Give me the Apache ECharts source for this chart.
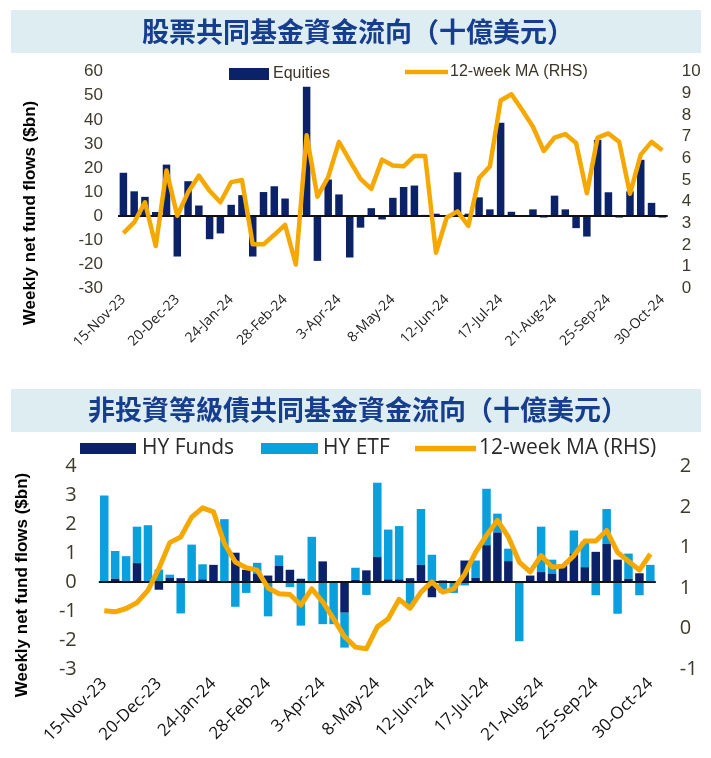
<!DOCTYPE html>
<html><head><meta charset="utf-8">
<script src="https://cdn.jsdelivr.net/npm/echarts@6/dist/echarts.min.js"></script>
<style>html,body{margin:0;padding:0;background:#fff}#c{width:711px;height:758px}</style>
</head><body><div id="c"></div>
<script>
const categories = ['15-Nov-23','22-Nov-23','29-Nov-23','6-Dec-23','13-Dec-23','20-Dec-23','27-Dec-23','3-Jan-24','10-Jan-24','17-Jan-24','24-Jan-24','31-Jan-24','7-Feb-24','14-Feb-24','21-Feb-24','28-Feb-24','6-Mar-24','13-Mar-24','20-Mar-24','27-Mar-24','3-Apr-24','10-Apr-24','17-Apr-24','24-Apr-24','1-May-24','8-May-24','15-May-24','22-May-24','29-May-24','5-Jun-24','12-Jun-24','19-Jun-24','26-Jun-24','3-Jul-24','10-Jul-24','17-Jul-24','24-Jul-24','31-Jul-24','7-Aug-24','14-Aug-24','21-Aug-24','28-Aug-24','4-Sep-24','11-Sep-24','18-Sep-24','25-Sep-24','2-Oct-24','9-Oct-24','16-Oct-24','23-Oct-24','30-Oct-24'];
const equities = [18,10.3,8,1.7,21.4,-16.8,14.5,4.4,-9.6,-7.2,4.7,8.7,-16.8,10,12.4,7.3,0.3,53.7,-18.6,15.2,9,-17.2,-4.8,3.3,-1.4,7.6,12.1,12.7,0.5,1,0.2,18.2,1,7.8,2.8,38.8,1.8,0.2,2.8,-0.6,8.5,2.8,-5,-8.5,31.7,9.9,-0.6,10.3,23.4,5.5,-0.6];
const equitiesMA = [2.55,3.04,3.97,1.95,5.44,3.35,4.43,5.2,4.5,3.97,4.9,5.0,2.03,2.03,2.47,2.93,1.1,7.07,4.23,5.13,6.76,5.9,5.05,4.59,5.94,5.67,5.63,6.11,6.11,1.64,3.27,3.55,2.88,5.09,5.63,8.67,8.96,8.23,7.46,6.34,6.96,7.12,6.71,4.39,6.96,7.15,6.76,4.36,6.17,6.76,6.37];
const hyFunds = [0.02,0.12,0.02,0.66,0.02,-0.26,0.15,0.14,0.02,0.1,0.6,0.03,1.02,0.43,0.29,0.23,0.56,0.43,0.12,-0.03,0.72,0,-1.05,0.08,0.41,0.87,0.1,0.1,0.14,0.6,-0.52,0.06,0,0.75,0.15,1.28,1.72,0.73,0,0.23,0.35,0.3,0.57,0.99,0.52,1.05,1.32,0.78,0.12,0.31,0];
const hyETF = [2.98,0.96,0.88,1.26,1.95,0.44,0.11,-1.08,1.28,0.52,0,2.15,-0.85,-0.37,0.38,-1.18,0.37,-0.17,-1.5,1.57,-1.45,-1.45,-1.21,0.42,-0.44,2.57,1.72,1.84,-0.85,1.93,0.95,-0.36,-0.37,-0.11,0.6,1.95,0.65,0.43,-2.04,0,1.57,0.48,0,0.8,0.88,-0.45,1.21,-1.09,0.87,-0.45,0.6];
const hyMA = [0.218,0.206,0.247,0.32,0.47,0.74,1.06,1.13,1.375,1.49,1.44,1.05,0.82,0.75,0.72,0.5,0.43,0.42,0.29,0.49,0.33,0.12,-0.1,-0.23,-0.25,0.02,0.12,0.36,0.25,0.45,0.575,0.45,0.49,0.67,0.94,1.15,1.335,1.13,0.82,0.7,0.9,0.76,0.77,0.9,1.08,1.08,1.21,0.94,0.83,0.72,0.92];
const title1 = '股票共同基金資金流向（十億美元）';
const title2 = '非投資等級債共同基金資金流向（十億美元）';
const yTitle = 'Weekly net fund flows ($bn)';

const NAVY = '#0c2268', LIGHT = '#0aa0de', ORANGE = '#f5a800', TICK = '#3d3a2c';
const F1 = "'Liberation Sans', Arial, sans-serif";
const F2 = "'Open Sans', 'Noto Sans', sans-serif";
const CJK = "'Noto Sans CJK TC', 'Noto Sans CJK SC', sans-serif";

const chart = echarts.init(document.getElementById('c'), null, {renderer:'canvas'});
const zeroLine = (w) => ({silent:true, symbol:'none', label:{show:false}, lineStyle:{color:'#111', width:w, type:'solid'}, data:[{yAxis:0}]});
chart.setOption({
  animation:false,
  backgroundColor:'#fff',
  graphic:[
    {type:'rect', shape:{x:11, y:10, width:690, height:43}, style:{fill:'#deedf2'}},
    {type:'text', x:358, y:32, style:{text:title1, font:'bold 27px '+CJK, fill:'#173e8e', textAlign:'center', textVerticalAlign:'middle', align:'center', verticalAlign:'middle'}},
    {type:'rect', shape:{x:11, y:389, width:690, height:43}, style:{fill:'#deedf2'}},
    {type:'text', x:358, y:410, style:{text:title2, font:'bold 27px '+CJK, fill:'#173e8e', textAlign:'center', textVerticalAlign:'middle', align:'center', verticalAlign:'middle'}},
    {type:'text', x:30, y:213, rotation:Math.PI/2, style:{text:yTitle, font:'bold 17px '+F1, fill:'#000', textAlign:'center', textVerticalAlign:'middle', align:'center', verticalAlign:'middle'}},
    {type:'text', x:22, y:585, rotation:Math.PI/2, style:{text:yTitle, font:'bold 17px '+F1, fill:'#000', textAlign:'center', textVerticalAlign:'middle', align:'center', verticalAlign:'middle'}}
  ],
  legend:[
    {left:224, top:61, itemWidth:40, itemHeight:12, itemGap:0, icon:'rect', data:[{name:'Equities', itemStyle:{color:NAVY}}], textStyle:{fontFamily:F1, fontSize:16, color:'#3a3526', padding:[0,0,0,-1]}},
    {left:400, top:59, itemWidth:43, itemHeight:4.5, icon:'rect', data:[{name:'12-week MA (RHS)', itemStyle:{color:ORANGE}}], textStyle:{fontFamily:F1, fontSize:16, color:'#3a3526', padding:[0,0,0,-3]}},
    {left:75, top:433, itemWidth:56, itemHeight:11, icon:'rect', data:[{name:'HY Funds', itemStyle:{color:NAVY}}], textStyle:{fontFamily:F2, fontSize:21, color:'#2a2a2a', padding:[0,0,0,1]}},
    {left:256, top:433, itemWidth:57, itemHeight:11, icon:'rect', data:[{name:'HY ETF', itemStyle:{color:LIGHT}}], textStyle:{fontFamily:F2, fontSize:21, color:'#2a2a2a', padding:[0,0,0,0]}},
    {left:410, top:433, itemWidth:61, itemHeight:5.5, icon:'rect', data:[{name:'12-week MA (RHS) ', itemStyle:{color:ORANGE}}], textStyle:{fontFamily:F2, fontSize:21, color:'#2a2a2a', padding:[0,0,0,-2]}}
  ],
  grid:[
    {left:118, top:71.7, width:549.7, height:216.6},
    {left:98.8, top:466.5, width:557, height:202.5}
  ],
  xAxis:[
    {type:'category', gridIndex:0, data:categories, boundaryGap:true, axisLine:{show:false}, axisTick:{show:false},
     axisLabel:{interval:4, rotate:45, margin:9, fontFamily:F2, fontSize:14, color:'#222'}},
    {type:'category', gridIndex:1, data:categories, boundaryGap:true, axisLine:{show:false}, axisTick:{show:false},
     axisLabel:{interval:4, rotate:45, margin:12, fontFamily:F2, fontSize:17, color:'#111'}}
  ],
  yAxis:[
    {type:'value', gridIndex:0, min:-30, max:60, interval:10, position:'left', splitLine:{show:false}, axisLine:{show:false}, axisTick:{show:false},
     axisLabel:{margin:15, fontFamily:F1, fontSize:17, color:TICK}},
    {type:'value', gridIndex:0, min:0, max:10, interval:1, position:'right', splitLine:{show:false}, axisLine:{show:false}, axisTick:{show:false},
     axisLabel:{margin:14, fontFamily:F1, fontSize:17, color:TICK}},
    {type:'value', gridIndex:1, min:-3, max:4, interval:1, position:'left', splitLine:{show:false}, axisLine:{show:false}, axisTick:{show:false},
     axisLabel:{margin:22, fontFamily:F2, fontSize:20, color:TICK}},
    {type:'value', gridIndex:1, min:-0.5, max:2, interval:0.5, position:'right', splitLine:{show:false}, axisLine:{show:false}, axisTick:{show:false},
     axisLabel:{margin:24, fontFamily:F2, fontSize:20, color:TICK, formatter:(v)=>String(Math.sign(v)*Math.round(Math.abs(v)))}}
  ],
  series:[
    {name:'Equities', type:'bar', xAxisIndex:0, yAxisIndex:0, data:equities, barWidth:7.5, itemStyle:{color:NAVY}, markLine:zeroLine(2), z:2},
    {name:'12-week MA (RHS)', type:'line', xAxisIndex:0, yAxisIndex:1, data:equitiesMA, showSymbol:false, lineStyle:{color:ORANGE, width:4.5, join:'round'}, itemStyle:{color:ORANGE}, z:5},
    {name:'HY Funds', type:'bar', xAxisIndex:1, yAxisIndex:2, data:hyFunds, stack:'hy', barWidth:8.5, itemStyle:{color:NAVY}, markLine:zeroLine(2), z:3},
    {name:'HY ETF', type:'bar', xAxisIndex:1, yAxisIndex:2, data:hyETF, stack:'hy', barWidth:8.5, itemStyle:{color:LIGHT}, z:2},
    {name:'12-week MA (RHS) ', type:'line', xAxisIndex:1, yAxisIndex:3, data:hyMA, showSymbol:false, lineStyle:{color:ORANGE, width:5, join:'round'}, itemStyle:{color:ORANGE}, z:5}
  ]
});
</script></body></html>
